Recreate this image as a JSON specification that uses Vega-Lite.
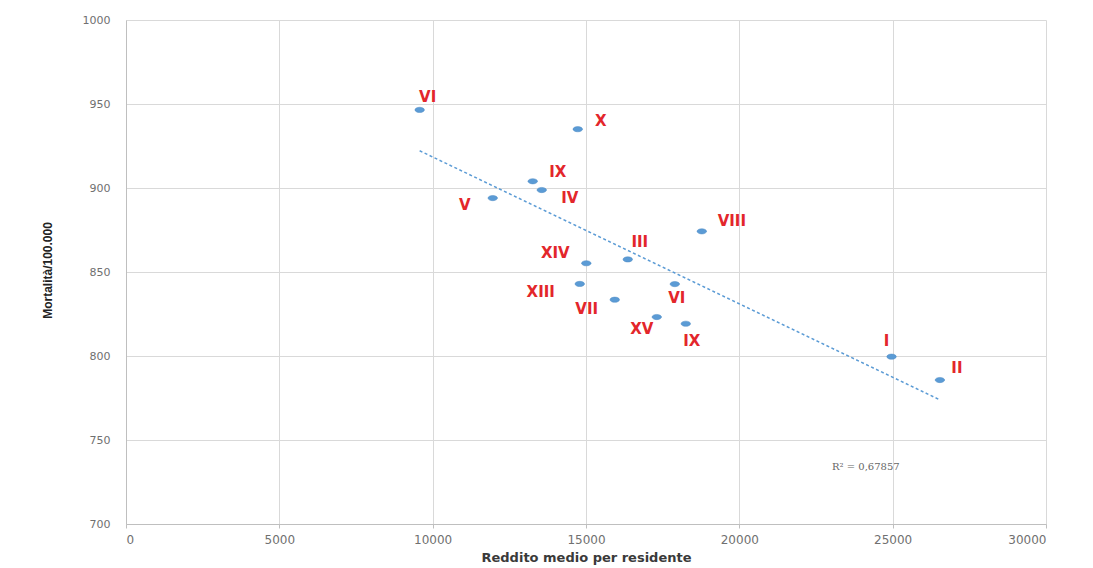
{
  "$schema": "https://vega.github.io/schema/vega-lite/v6.json",
  "width": 920,
  "height": 504,
  "autosize": {"type": "none"},
  "padding": {"left": 126, "top": 20, "right": 47, "bottom": 44},
  "background": "white",
  "datasets": {
    "municipi": [
      {"id": 1, "municipio": "VI", "reddito": 9576, "mortalita": 946.5},
      {"id": 2, "municipio": "X", "reddito": 14731, "mortalita": 935},
      {"id": 3, "municipio": "IX", "reddito": 13263, "mortalita": 904},
      {"id": 4, "municipio": "IV", "reddito": 13557, "mortalita": 898.8},
      {"id": 5, "municipio": "V", "reddito": 11959, "mortalita": 894},
      {"id": 6, "municipio": "VIII", "reddito": 18776, "mortalita": 874.2},
      {"id": 7, "municipio": "III", "reddito": 16362, "mortalita": 857.5},
      {"id": 8, "municipio": "XIV", "reddito": 15010, "mortalita": 855.2},
      {"id": 9, "municipio": "XIII", "reddito": 14797, "mortalita": 842.9},
      {"id": 10, "municipio": "VI", "reddito": 17896, "mortalita": 842.8},
      {"id": 11, "municipio": "VII", "reddito": 15938, "mortalita": 833.5},
      {"id": 12, "municipio": "XV", "reddito": 17308, "mortalita": 823.2},
      {"id": 13, "municipio": "IX", "reddito": 18254, "mortalita": 819.2},
      {"id": 14, "municipio": "I", "reddito": 24964, "mortalita": 799.6},
      {"id": 15, "municipio": "II", "reddito": 26540, "mortalita": 785.7}
    ],
    "annotazione": [
      {"reddito": 24126, "mortalita": 734, "testo": "R² = 0,67857"}
    ]
  },
  "data": {"name": "municipi"},
  "encoding": {
    "x": {
      "field": "reddito",
      "type": "quantitative",
      "scale": {"domain": [0, 30000], "nice": false, "zero": false},
      "axis": {
        "title": "Reddito medio per residente",
        "values": [0, 5000, 10000, 15000, 20000, 25000, 30000],
        "format": "d",
        "grid": true,
        "gridColor": "#d9d9d9",
        "domainColor": "#bfbfbf",
        "ticks": true,
        "tickSize": 4,
        "tickColor": "#bfbfbf",
        "labelFont": "DejaVu Sans",
        "labelFontSize": 12,
        "labelColor": "#707070",
        "labelPadding": 6,
        "titleFont": "DejaVu Sans",
        "titleFontSize": 13,
        "titleFontWeight": "bold",
        "titleColor": "#3a3a3a",
        "titlePadding": 6
      }
    },
    "y": {
      "field": "mortalita",
      "type": "quantitative",
      "scale": {"domain": [700, 1000], "nice": false, "zero": false},
      "axis": {
        "title": "Mortalità/100.000",
        "values": [700, 750, 800, 850, 900, 950, 1000],
        "format": "d",
        "grid": true,
        "gridColor": "#d9d9d9",
        "domainColor": "#bfbfbf",
        "ticks": false,
        "labelFont": "DejaVu Sans",
        "labelFontSize": 11,
        "labelColor": "#707070",
        "labelPadding": 16,
        "titleFont": "Liberation Sans",
        "titleFontSize": 12,
        "titleFontWeight": "bold",
        "titleColor": "#222222",
        "titleX": -72,
        "titleY": 250
      }
    }
  },
  "layer": [
    {
      "transform": [{"regression": "mortalita", "on": "reddito"}],
      "mark": {"type": "line", "color": "#5b9bd5", "strokeWidth": 1.5, "strokeDash": [3, 2.5]}
    },
    {
      "mark": {
        "type": "point",
        "shape": "M-1,0A1,0.55,0,1,1,1,0A1,0.55,0,1,1,-1,0Z",
        "size": 90,
        "filled": true,
        "fill": "#5b9bd5",
        "stroke": "#4a88c2",
        "strokeWidth": 0.5,
        "opacity": 1
      }
    },
    {"transform": [{"filter": "datum.id == 1"}], "mark": {"type": "text", "dx": 8, "dy": -13}, "encoding": {"text": {"field": "municipio"}}},
    {"transform": [{"filter": "datum.id == 2"}], "mark": {"type": "text", "dx": 23, "dy": -8}, "encoding": {"text": {"field": "municipio"}}},
    {"transform": [{"filter": "datum.id == 3"}], "mark": {"type": "text", "dx": 25, "dy": -9}, "encoding": {"text": {"field": "municipio"}}},
    {"transform": [{"filter": "datum.id == 4"}], "mark": {"type": "text", "dx": 28, "dy": 8}, "encoding": {"text": {"field": "municipio"}}},
    {"transform": [{"filter": "datum.id == 5"}], "mark": {"type": "text", "dx": -28, "dy": 7}, "encoding": {"text": {"field": "municipio"}}},
    {"transform": [{"filter": "datum.id == 6"}], "mark": {"type": "text", "dx": 30, "dy": -10}, "encoding": {"text": {"field": "municipio"}}},
    {"transform": [{"filter": "datum.id == 7"}], "mark": {"type": "text", "dx": 12, "dy": -17}, "encoding": {"text": {"field": "municipio"}}},
    {"transform": [{"filter": "datum.id == 8"}], "mark": {"type": "text", "dx": -31, "dy": -10}, "encoding": {"text": {"field": "municipio"}}},
    {"transform": [{"filter": "datum.id == 9"}], "mark": {"type": "text", "dx": -39, "dy": 8}, "encoding": {"text": {"field": "municipio"}}},
    {"transform": [{"filter": "datum.id == 10"}], "mark": {"type": "text", "dx": 2, "dy": 14}, "encoding": {"text": {"field": "municipio"}}},
    {"transform": [{"filter": "datum.id == 11"}], "mark": {"type": "text", "dx": -28, "dy": 9}, "encoding": {"text": {"field": "municipio"}}},
    {"transform": [{"filter": "datum.id == 12"}], "mark": {"type": "text", "dx": -15, "dy": 12}, "encoding": {"text": {"field": "municipio"}}},
    {"transform": [{"filter": "datum.id == 13"}], "mark": {"type": "text", "dx": 6, "dy": 17}, "encoding": {"text": {"field": "municipio"}}},
    {"transform": [{"filter": "datum.id == 14"}], "mark": {"type": "text", "dx": -5, "dy": -16}, "encoding": {"text": {"field": "municipio"}}},
    {"transform": [{"filter": "datum.id == 15"}], "mark": {"type": "text", "dx": 17, "dy": -12}, "encoding": {"text": {"field": "municipio"}}},
    {
      "data": {"name": "annotazione"},
      "mark": {"type": "text", "font": "DejaVu Serif", "fontSize": 10, "fontWeight": "normal", "fill": "#666666"},
      "encoding": {"text": {"field": "testo"}}
    }
  ],
  "config": {
    "view": {"stroke": null},
    "text": {"font": "DejaVu Sans", "fontSize": 15, "fontWeight": "bold", "fill": "#e3262b", "align": "center", "baseline": "middle"}
  }
}
